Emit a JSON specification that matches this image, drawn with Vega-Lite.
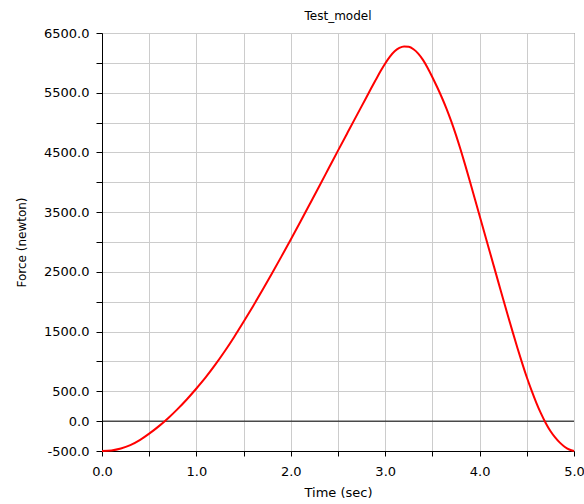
{
  "$schema": "https://vega.github.io/schema/vega-lite/v6.json",
  "width": 472,
  "height": 418,
  "autosize": {"type": "none"},
  "padding": {"left": 102, "top": 33, "right": 10, "bottom": 53},
  "background": "white",
  "title": {"text": "Test_model", "fontSize": 12, "fontWeight": "normal", "font": "DejaVu Sans", "color": "#000000", "offset": 4},
  "config": {
    "view": {"stroke": "#555555", "strokeWidth": 1},
    "axis": {
      "labelFont": "DejaVu Sans",
      "titleFont": "DejaVu Sans",
      "labelFontSize": 13,
      "titleFontSize": 13,
      "titleFontWeight": "normal",
      "labelColor": "#000000",
      "titleColor": "#000000",
      "domainColor": "#000000",
      "tickColor": "#000000",
      "gridColor": "#cccccc",
      "gridOpacity": 1,
      "gridWidth": 1
    }
  },
  "encoding": {
    "y": {
      "field": "f", "type": "quantitative",
      "scale": {"domain": [-500, 6500], "nice": false, "zero": false},
      "axis": {
        "title": "Force (newton)",
        "values": [-500, 0, 500, 1000, 1500, 2000, 2500, 3000, 3500, 4000, 4500, 5000, 5500, 6000, 6500],
        "labelExpr": "datum.value == 0 ? '0.0' : (abs(datum.value % 1000) == 500 ? replace(format(datum.value, '.1f'), '\u2212', '-') : '')",
        "tickSize": 6, "labelPadding": 7, "titlePadding": 15,
        "labelFlush": false, "labelOverlap": false, "titleFontSize": 12
      }
    }
  },
  "layer": [
    {
      "data": {"values": [{"f": 0}]},
      "mark": {"type": "rule", "color": "#000000", "strokeWidth": 1},
      "encoding": {}
    },
    {
      "data": {"values": [
        {"t": 0.0, "f": -500}, {"t": 0.1, "f": -490}, {"t": 0.2, "f": -458}, {"t": 0.3, "f": -402},
        {"t": 0.4, "f": -318}, {"t": 0.5, "f": -210}, {"t": 0.6, "f": -88}, {"t": 0.7, "f": 49},
        {"t": 0.8, "f": 201}, {"t": 0.9, "f": 367}, {"t": 1.0, "f": 547}, {"t": 1.1, "f": 737},
        {"t": 1.2, "f": 945}, {"t": 1.3, "f": 1170}, {"t": 1.4, "f": 1410}, {"t": 1.5, "f": 1663},
        {"t": 1.6, "f": 1925}, {"t": 1.7, "f": 2195}, {"t": 1.8, "f": 2472}, {"t": 1.9, "f": 2755},
        {"t": 2.0, "f": 3043}, {"t": 2.1, "f": 3335}, {"t": 2.2, "f": 3632}, {"t": 2.3, "f": 3930},
        {"t": 2.4, "f": 4230}, {"t": 2.5, "f": 4530}, {"t": 2.6, "f": 4828}, {"t": 2.7, "f": 5125},
        {"t": 2.8, "f": 5420}, {"t": 2.85, "f": 5570}, {"t": 2.9, "f": 5715}, {"t": 2.95, "f": 5858},
        {"t": 3.0, "f": 5990}, {"t": 3.05, "f": 6105}, {"t": 3.1, "f": 6195}, {"t": 3.15, "f": 6250},
        {"t": 3.2, "f": 6274}, {"t": 3.25, "f": 6268}, {"t": 3.3, "f": 6228}, {"t": 3.35, "f": 6155},
        {"t": 3.4, "f": 6050}, {"t": 3.45, "f": 5915}, {"t": 3.5, "f": 5760}, {"t": 3.55, "f": 5595},
        {"t": 3.6, "f": 5420}, {"t": 3.65, "f": 5230}, {"t": 3.7, "f": 5020}, {"t": 3.75, "f": 4790},
        {"t": 3.8, "f": 4540}, {"t": 3.85, "f": 4275}, {"t": 3.9, "f": 4000}, {"t": 3.95, "f": 3720},
        {"t": 4.0, "f": 3440}, {"t": 4.05, "f": 3160}, {"t": 4.1, "f": 2880}, {"t": 4.15, "f": 2600},
        {"t": 4.2, "f": 2320}, {"t": 4.25, "f": 2040}, {"t": 4.3, "f": 1765}, {"t": 4.35, "f": 1495},
        {"t": 4.4, "f": 1230}, {"t": 4.45, "f": 975}, {"t": 4.5, "f": 735}, {"t": 4.55, "f": 515},
        {"t": 4.6, "f": 312}, {"t": 4.65, "f": 130}, {"t": 4.7, "f": -30}, {"t": 4.75, "f": -165},
        {"t": 4.8, "f": -272}, {"t": 4.85, "f": -360}, {"t": 4.9, "f": -428}, {"t": 4.95, "f": -475},
        {"t": 5.0, "f": -500}
      ]},
      "mark": {"type": "line", "color": "#ff0000", "strokeWidth": 2, "interpolate": "monotone"},
      "encoding": {
        "x": {
          "field": "t", "type": "quantitative",
          "scale": {"domain": [0, 5], "nice": false, "zero": false},
          "axis": {
            "title": "Time (sec)",
            "values": [0, 0.5, 1, 1.5, 2, 2.5, 3, 3.5, 4, 4.5, 5],
            "labelExpr": "abs(datum.value % 1) < 0.001 ? format(datum.value, '.1f') : ''",
            "tickSize": 5, "labelPadding": 9, "titlePadding": 8,
            "labelFlush": false, "labelOverlap": false
          }
        }
      }
    }
  ]
}
